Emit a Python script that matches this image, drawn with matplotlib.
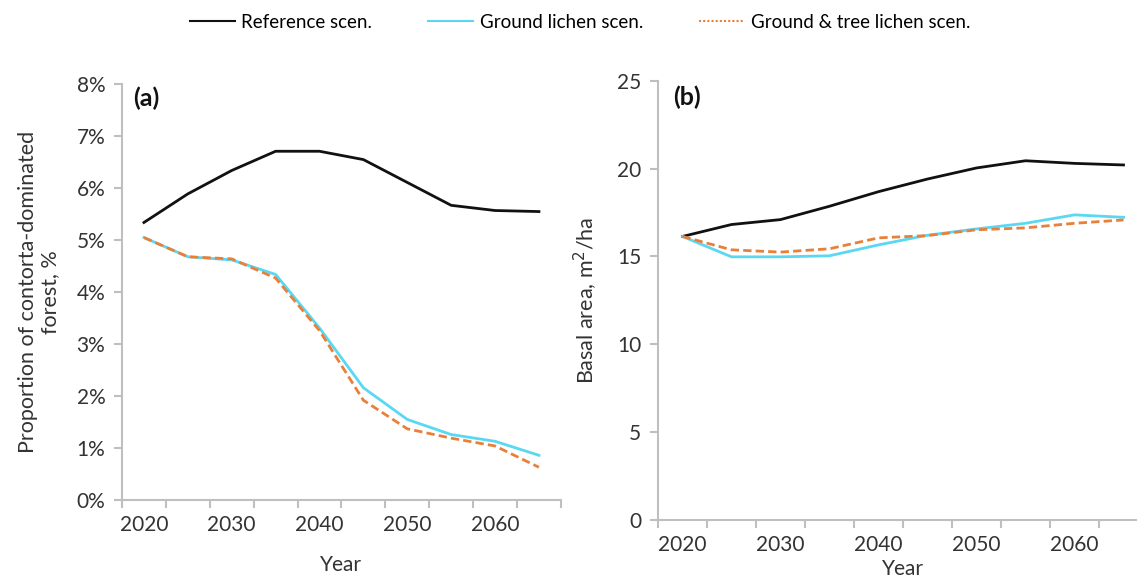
import matplotlib
matplotlib.use("Agg")
import matplotlib.pyplot as plt
from matplotlib.ticker import FixedLocator, NullFormatter
from matplotlib.lines import Line2D

plt.rcParams['font.family'] = ['Lato', 'DejaVu Sans']

# data
years = [2020, 2025, 2030, 2035, 2040, 2045, 2050, 2055, 2060, 2065]
tick_labels = ["2020", "2030", "2040", "2050", "2060"]

# (a) proportion of contorta-dominated forest, %
prop_ref = [5.34, 5.89, 6.34, 6.71, 6.71, 6.55, 6.11, 5.67, 5.57, 5.55]
prop_ground = [5.05, 4.68, 4.62, 4.34, 3.31, 2.16, 1.55, 1.26, 1.13, 0.86]
prop_tree = [5.05, 4.68, 4.64, 4.27, 3.26, 1.92, 1.37, 1.19, 1.04, 0.63]

# (b) basal area, m2/ha
ba_ref = [16.14, 16.82, 17.10, 17.86, 18.69, 19.41, 20.04, 20.45, 20.30, 20.21]
ba_ground = [16.14, 14.98, 14.98, 15.04, 15.66, 16.21, 16.57, 16.89, 17.37, 17.23]
ba_tree = [16.14, 15.38, 15.25, 15.44, 16.06, 16.19, 16.52, 16.63, 16.89, 17.08]

c_ref = "#111111"
c_ground = "#5ad8f2"
c_tree = "#e8803a"
grey = "#bfbfbf"
txt = "#333333"

fig = plt.figure(figsize=(11.37, 5.84), dpi=100)
ax1 = fig.add_axes([0.1073, 0.1438, 0.386, 0.712])
ax2 = fig.add_axes([0.5787, 0.1096, 0.431, 0.752])

x = list(range(len(years)))


def style(ax):
    for s in ["top", "right"]:
        ax.spines[s].set_visible(False)
    for s in ["left", "bottom"]:
        ax.spines[s].set_color(grey)
        ax.spines[s].set_linewidth(1.5)
    ax.set_xlim(-0.5, len(years) - 0.5)
    # category boundaries get tick marks, labels sit in the middle
    ax.xaxis.set_major_locator(FixedLocator([i - 0.5 for i in range(len(years) + 1)]))
    ax.xaxis.set_major_formatter(NullFormatter())
    ax.xaxis.set_minor_locator(FixedLocator([0, 2, 4, 6, 8]))
    ax.set_xticklabels(tick_labels, minor=True)
    ax.tick_params(axis="x", which="major", length=6, width=1.5, color=grey)
    ax.tick_params(axis="x", which="minor", length=0, pad=11, labelsize=15, labelcolor=txt)
    ax.tick_params(axis="y", length=6, width=1.5, color=grey, labelsize=15, labelcolor=txt, pad=6)
    ax.set_xlabel("Year", fontsize=15, color=txt, labelpad=14)


ax1.plot(x, prop_ref, color=c_ref, lw=2)
ax1.plot(x, prop_ground, color=c_ground, lw=2)
ax1.plot(x, prop_tree, color=c_tree, lw=2, ls=(0, (3, 1.5)))
style(ax1)
ax1.set_ylim(0, 8)
ax1.set_yticks(range(0, 9))
ax1.set_yticklabels([f"{v}%" for v in range(0, 9)])
ax1.set_ylabel("Proportion of contorta-dominated\nforest, %", fontsize=15.5, color=txt,
               labelpad=12, linespacing=1.1)
ax1.text(0.025, 0.995, "(a)", transform=ax1.transAxes, fontsize=18, fontweight="bold",
         va="top", ha="left", color="#111111")

ax2.plot(x, ba_ref, color=c_ref, lw=2)
ax2.plot(x, ba_ground, color=c_ground, lw=2)
ax2.plot(x, ba_tree, color=c_tree, lw=2, ls=(0, (3, 1.5)))
style(ax2)
ax2.set_ylim(0, 25)
ax2.set_yticks(range(0, 26, 5))
ax2.set_ylabel("Basal area, m$^2$/ha", fontsize=15.5, color=txt, labelpad=12)
ax2.xaxis.labelpad = 3
ax2.text(0.03, 0.99, "(b)", transform=ax2.transAxes, fontsize=18, fontweight="bold",
         va="top", ha="left", color="#111111")

handles = [
    Line2D([], [], color=c_ref, lw=1.5),
    Line2D([], [], color=c_ground, lw=1.5),
    Line2D([], [], color=c_tree, lw=1.5, ls=(0, (1, 1))),
]
labels = ["Reference scen.", "Ground lichen scen.", "Ground & tree lichen scen."]
fig.legend(handles, labels, loc="center", bbox_to_anchor=(0.51, 0.962), ncol=3,
           frameon=False, handlelength=2.4, handletextpad=0.35, columnspacing=3.0,
           prop={"family": ["Liberation Sans Narrow", "Lato", "DejaVu Sans"], "size": 13.5})

plt.savefig("out.png", dpi=100)
plt.close()
